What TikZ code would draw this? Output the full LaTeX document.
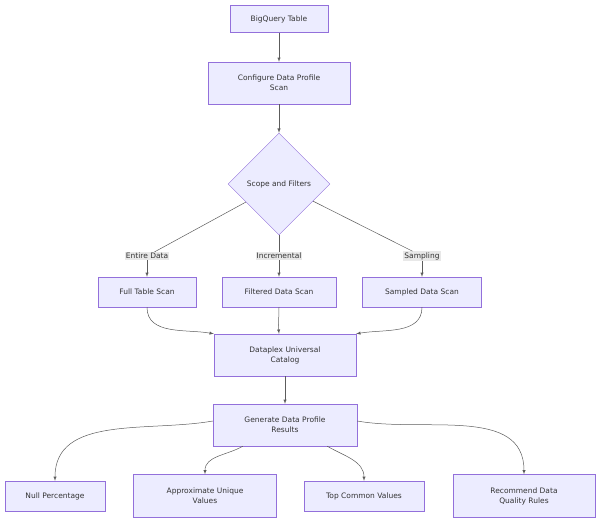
\documentclass[tikz,border=0pt]{standalone}
\usepackage{fontspec}
\setmainfont{DejaVu Sans}
\usetikzlibrary{shapes.geometric}
\definecolor{boxfill}{HTML}{ECECFF}
\definecolor{boxline}{HTML}{9370DB}
\definecolor{txt}{HTML}{333333}
\begin{document}
\begin{tikzpicture}[
    x=1pt, y=-1pt,
    every node/.style={font=\fontsize{7.5}{10}\selectfont, text=txt},
    box/.style={draw=boxline, fill=boxfill, align=center, inner sep=0pt},
    decision/.style={diamond, draw=boxline, fill=boxfill, minimum width=102pt, minimum height=102pt, inner sep=0pt},
    tag/.style={fill=gray!18, inner sep=1pt},
    wire/.style={draw=txt!80, line width=0.5pt},
    link/.style={wire, -latex}
]
\useasboundingbox (0,0) rectangle (600,522);

% main column
\node[box, minimum width=98pt, minimum height=27pt] (table) at (279,19) {BigQuery Table};
\node[box, minimum width=142pt, minimum height=42pt] (config) at (279,83) {Configure Data Profile\\Scan};
\node[decision] (scope) at (279,184) {Scope and Filters};

% edge labels
\node[tag] (lfull) at (147,256) {Entire Data};
\node[tag] (linc) at (279,256) {Incremental};
\node[tag] (lsamp) at (422,256) {Sampling};

% scan types
\node[box, minimum width=98pt, minimum height=30pt] (full) at (147,292) {Full Table Scan};
\node[box, minimum width=114pt, minimum height=30pt] (filtered) at (279,292) {Filtered Data Scan};
\node[box, minimum width=119pt, minimum height=30pt] (sampled) at (422,292) {Sampled Data Scan};

\node[box, minimum width=142pt, minimum height=42pt] (catalog) at (285,355) {Dataplex Universal\\Catalog};
\node[box, minimum width=144pt, minimum height=42pt] (results) at (285,425) {Generate Data Profile\\Results};

% outputs
\node[box, minimum width=100pt, minimum height=30pt] (null) at (55,496) {Null Percentage};
\node[box, minimum width=143pt, minimum height=43pt] (unique) at (205,496) {Approximate Unique\\Values};
\node[box, minimum width=120pt, minimum height=30pt] (top) at (364,496) {Top Common Values};
\node[box, minimum width=142pt, minimum height=43pt] (rules) at (524,496) {Recommend Data\\Quality Rules};

% connectors
\draw[link] (table) -- (config);
\draw[link] (config) -- (scope);
\draw[wire] (scope) -- (lfull);
\draw[wire] (scope) -- (linc);
\draw[wire] (scope) -- (lsamp);
\draw[link] (lfull) -- (full);
\draw[link] (linc) -- (filtered);
\draw[link] (lsamp) -- (sampled);
\draw[link] (full.south) to[out=-90, in=170] (catalog.north west);
\draw[link] (filtered.south) to[out=-90, in=95] ([xshift=-6pt]catalog.north);
\draw[link] (sampled.south) to[out=-90, in=10] (catalog.north east);
\draw[link] (catalog) -- (results);
\draw[link] ([yshift=4pt]results.west) to[out=190, in=90] (null.north);
\draw[link] ([xshift=30pt]results.south west) to[out=-150, in=90] (unique.north);
\draw[link] ([xshift=-30pt]results.south east) to[out=-30, in=90] (top.north);
\draw[link] ([yshift=4pt]results.east) to[out=-10, in=90] (rules.north);
\end{tikzpicture}
\end{document}
